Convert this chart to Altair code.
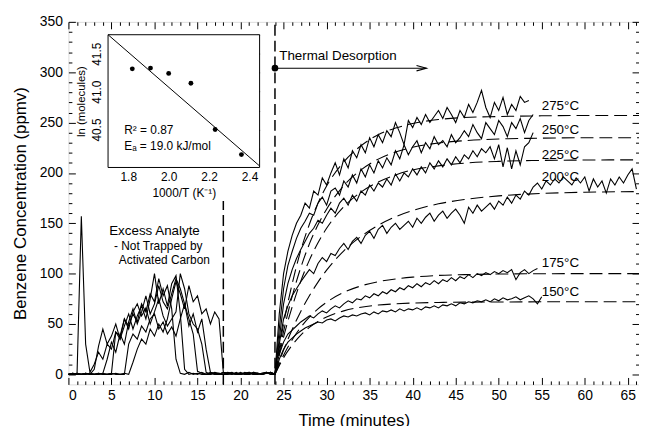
import altair as alt
import pandas as pd

FONT = "Liberation Sans"
W, H = 576, 366

temps = ["275", "250", "225", "200", "175", "150"]
temp_labels = ["275°C", "250°C", "225°C", "200°C", "175°C", "150°C"]
temp_label_v = [266, 243, 218, 196, 111, 82]
temp_label_t = 55

# 0 - 24 min, every 0.5 min (excess analyte, not trapped)
pre_275 = [0, 0, 0, 157, 30, 2, 10, 22, 15, 30, 25, 42, 38, 55, 48, 60, 52, 70, 62, 80, 72, 95, 78, 88, 65, 15,
           1, 0, 2, 0, 1, 0, 0, 2, 1, 0, 0, 1, 2, 0, 1, 0, 0, 2, 1, 0, 1, 2, 0]
pre_250 = [0, 1, 0, 0, 1, 0, 5, 28, 45, 30, 38, 50, 35, 48, 60, 45, 58, 68, 55, 75, 100, 70, 85, 68, 90, 98, 60, 5,
           0, 1, 0, 2, 0, 1, 0, 0, 2, 1, 0, 1, 0, 2, 0, 1, 0, 1, 2, 0, 0]
pre_225 = [0, 0, 1, 0, 0, 1, 0, 0, 1,
           15, 32, 22, 40, 30, 52, 65, 50, 62, 78, 60, 70, 88, 72, 65, 80, 95, 85, 70, 55, 40, 3,
           1, 0, 0, 2, 1, 0, 0, 1, 0, 2, 0, 1, 0, 0, 1, 2, 0, 0]
pre_200 = [0, 1, 0, 0, 1, 0, 0, 1, 0, 0, 1,
           42, 35, 55, 45, 62, 70, 58, 66, 50, 62, 75, 58, 48, 55, 62, 100, 85, 60, 50, 45, 30, 2,
           0, 1, 0, 2, 0, 1, 0, 0, 1, 2, 0, 1, 0, 2, 1, 0]
pre_175 = [0, 0, 1, 0, 0, 1, 0, 0, 1, 0, 0, 1, 0, 0,
           30, 40, 35, 48, 42, 55, 60, 45, 52, 40, 47, 38, 55, 70, 48, 60, 42, 55, 25, 2,
           0, 1, 0, 2, 1, 0, 0, 1, 2, 0, 1, 0, 1, 2, 0]
pre_150 = [0, 1, 0, 0, 1, 0, 0, 1, 0, 0, 1, 0, 0, 1, 0,
           12, 25, 35, 30, 45, 38, 50, 42, 55, 75, 92, 80, 65, 88, 72, 78, 60, 65, 50, 62, 55, 2,
           1, 0, 2, 0, 1, 0, 2, 1, 0, 1, 2, 0]

# from 24.5 min on, every 0.5 min (thermal desorption)
des_275 = [60, 100, 122, 138, 150, 158, 170, 165, 182, 178,
           195, 188, 200, 210, 198, 214, 205, 222, 215, 228,
           220, 235, 226, 238, 230, 242, 236, 250, 240, 228,
           252, 245, 255, 248, 258, 250, 256, 262, 254, 265,
           258, 250, 262, 255, 268, 260, 270, 282, 265, 255,
           270, 262, 275, 258, 268, 262, 276, 270, 272]
des_250 = [45, 85, 108, 122, 135, 145, 152, 160, 158, 170,
           176, 168, 182, 185, 178, 192, 186, 198, 190, 204,
           196, 208, 200, 212, 205, 215, 208, 222, 214, 228,
           218, 226, 232, 220, 230, 224, 236, 228, 232, 226,
           238, 230, 235, 242, 236, 248, 240, 234, 250, 244,
           238, 252, 246, 236, 250, 244, 254, 240, 252, 258]
des_225 = [35, 70, 90, 104, 115, 124, 132, 140, 145, 153,
           150, 158, 165, 160, 170, 175, 168, 178, 172, 182,
           178, 188, 182, 190, 186, 194, 188, 199, 192, 200,
           196, 204, 198, 206, 200, 210, 204, 212, 206, 214,
           208, 216, 210, 218, 214, 222, 216, 224, 220, 226,
           214, 228, 206, 225, 204, 222, 208, 226, 230, 240]
des_200 = [30, 55, 68, 78, 85, 92, 98, 104, 100, 110,
           116, 112, 120, 118, 125, 130, 124, 132, 136, 130,
           138, 142, 135, 144, 148, 140, 146, 150, 144, 148,
           152, 146, 155, 150, 156, 160, 152, 158, 162, 155,
           160, 164, 158, 150, 166, 160, 168, 162, 166, 170,
           164, 172, 168, 176, 170, 178, 174, 182, 178, 186,
           190, 184, 192, 188, 194, 190, 196, 192, 188, 195,
           190, 196, 182, 194, 186, 192, 180, 194, 188, 196,
           190, 198, 204, 184]
des_175 = [20, 32, 40, 44, 48, 52, 55, 58, 56, 60,
           63, 61, 65, 68, 66, 70, 73, 71, 75, 74,
           78, 76, 80, 78, 82, 80, 84, 82, 86, 84,
           88, 86, 90, 87, 91, 89, 93, 90, 94, 92,
           96, 93, 97, 95, 99, 96, 100, 98, 101, 99,
           102, 100, 103, 101, 104, 94, 101, 104, 100, 103, 105]
des_150 = [15, 25, 32, 36, 40, 43, 46, 48, 50, 52,
           51, 54, 55, 53, 56, 58, 57, 59, 58, 60,
           61, 59, 62, 60, 63, 62, 64, 62, 65, 63,
           65, 64, 66, 64, 67, 66, 68, 66, 69, 68,
           70, 68, 71, 70, 72, 71, 73, 72, 74, 72,
           75, 73, 76, 74, 75, 77, 74, 76, 78, 75, 70, 77]

# first-order fits (dashed)
fit_t = [24, 25, 26, 27, 28, 29, 30, 32, 34, 36, 38, 40, 43, 46, 50, 55, 60, 66.3]
fit_275 = [0, 50, 90, 123, 149, 170, 187, 211, 227, 238, 244.5, 249, 253, 255, 256, 256.7, 257, 257]
fit_250 = [0, 42.6, 77.5, 106, 129.5, 148.5, 164, 187.5, 203, 213.7, 220.7, 225.4, 229.7, 232, 233.7, 234.5, 235, 235]
fit_225 = [0, 37, 67, 92.5, 113.4, 130.6, 145, 166.4, 181, 191, 198, 203, 207, 209.7, 211.5, 212.4, 212.8, 213]
fit_200 = [0, 24, 44.5, 62.5, 78, 91.6, 103.4, 122.6, 137, 148, 156.4, 162.6, 169.3, 173.6, 177.2, 179.6, 180.8, 181.5]
fit_175 = [0, 19, 34.3, 46.7, 56.8, 65, 71.6, 81.4, 87.8, 92, 94.7, 96.5, 98.2, 99, 99.6, 99.9, 100, 100]
fit_150 = [0, 16.5, 29, 39, 46.6, 52.4, 56.9, 63, 66.7, 68.8, 70, 70.8, 71.4, 71.7, 71.8, 72, 72, 72]

# dashed vertical markers
vline_t = [18, 24]
vline_lo = [-10, -10]
vline_hi = [172, 350]

# thermal desorption arrow
td_t = [24, 41.6]
td_v = [304, 304]

# inset: Arrhenius plot
inv_T = [1.82, 1.91, 2.00, 2.11, 2.23, 2.36]
ln_mol = [41.30, 41.31, 41.24, 41.11, 40.50, 40.17]
reg_x = [1.70, 2.45]
reg_y = [41.75, 40.02]
inset_x_dom = [1.70, 2.45]
inset_y_dom = [40.0, 41.75]

# ---------------------------------------------------------------
pre = dict(zip(temps, [pre_275, pre_250, pre_225, pre_200, pre_175, pre_150]))
des = dict(zip(temps, [des_275, des_250, des_225, des_200, des_175, des_150]))
fits = dict(zip(temps, [fit_275, fit_250, fit_225, fit_200, fit_175, fit_150]))

rows = []
for k in temps:
    vals = pre[k] + des[k]
    for i, v in enumerate(vals):
        rows.append({"t": 0.5 * i, "v": v, "s": k})
df_tr = pd.DataFrame(rows)
df_fit = pd.DataFrame([{"t": t, "v": v, "s": k} for k in temps for t, v in zip(fit_t, fits[k])])
df_vr = pd.DataFrame({"t": vline_t, "y1": vline_lo, "y2": vline_hi})
df_td = pd.DataFrame({"t": td_t, "v": td_v})
df_lab = pd.DataFrame({"t": [temp_label_t] * 6, "v": temp_label_v, "txt": temp_labels})

xs = alt.Scale(domain=[0, 66.3], nice=False, zero=False)
ys = alt.Scale(domain=[-10, 350], nice=False, zero=False)


def tick_axis(orient, offset, values, test, big, small):
    return alt.Axis(orient=orient, offset=offset, values=values, labels=False, domain=False,
                    grid=False, title=None, tickColor="black", tickWidth=1,
                    tickSize={"condition": {"test": test, "value": big}, "value": small})


ax_x_main = alt.Axis(orient="bottom", values=list(range(0, 70, 5)), ticks=False, domain=False, grid=False,
                     labelFont=FONT, labelFontSize=14, labelColor="black", labelPadding=4,
                     title="Time (minutes)", titleFont=FONT, titleFontSize=17, titleFontWeight="normal",
                     titleColor="black", titlePadding=10)
ax_y_main = alt.Axis(orient="left", values=list(range(0, 351, 50)), ticks=False, domain=False, grid=False,
                     labelFont=FONT, labelFontSize=14, labelColor="black", labelPadding=6,
                     title="Benzene Concentration (ppmv)", titleFont=FONT, titleFontSize=17,
                     titleFontWeight="normal", titleColor="black", titlePadding=10)
xmin = list(range(0, 67))
ymin = list(range(0, 351, 10))
tx_bot = tick_axis("top", -H, xmin, "datum.value % 5 === 0", 7, 3.5)
tx_top = tick_axis("bottom", -H, xmin, "datum.value % 5 === 0", 7, 3.5)
ty_left = tick_axis("right", -W, ymin, "datum.value % 50 === 0", 7, 3.5)
ty_right = tick_axis("left", -W, ymin, "datum.value % 50 === 0", 7, 3.5)

traces = alt.Chart(df_tr).mark_line(color="black", strokeWidth=1.1).encode(
    x=alt.X("t:Q", scale=xs, axis=ax_x_main),
    y=alt.Y("v:Q", scale=ys, axis=ax_y_main),
    detail="s:N")
fitlines = alt.Chart(df_fit).mark_line(color="black", strokeWidth=1.1, strokeDash=[13, 6],
                                       interpolate="monotone").encode(
    x=alt.X("t:Q", scale=xs, axis=tx_bot),
    y=alt.Y("v:Q", scale=ys, axis=ty_left),
    detail="s:N")
vrules = alt.Chart(df_vr).mark_rule(color="black", strokeWidth=1.5, strokeDash=[11, 5]).encode(
    x=alt.X("t:Q", scale=xs, axis=tx_top),
    y=alt.Y("y1:Q", scale=ys, axis=ty_right),
    y2="y2:Q")

noax_x = alt.X("t:Q", scale=xs, axis=None)
noax_y = alt.Y("v:Q", scale=ys, axis=None)

td_line = alt.Chart(df_td).mark_line(color="black", strokeWidth=1.1).encode(x=noax_x, y=noax_y)
td_dot = alt.Chart(df_td.head(1)).mark_circle(size=45, color="black", opacity=1).encode(x=noax_x, y=noax_y)
td_head = alt.Chart(df_td.tail(1)).mark_point(shape="M-1,-0.27L0,0L-1,0.27", size=400, filled=False,
                                              color="black", strokeWidth=1.1, opacity=1).encode(x=noax_x, y=noax_y)
td_text = alt.Chart(pd.DataFrame({"t": [24.5], "v": [316], "txt": ["Thermal Desorption"]})).mark_text(
    align="left", baseline="middle", font=FONT, fontSize=13.5, color="black").encode(x=noax_x, y=noax_y, text="txt:N")

ex_df = pd.DataFrame({"t": [10.0, 5.3, 5.85], "v": [142, 127, 113],
                      "txt": ["Excess Analyte", "- Not Trapped by", "Activated Carbon"],
                      "fs": [13.5, 11.5, 11.5], "al": ["center", "left", "left"]})
ex_t1 = alt.Chart(ex_df.head(1)).mark_text(align="center", baseline="middle", font=FONT, fontSize=13.5,
                                           color="black").encode(x=noax_x, y=noax_y, text="txt:N")
ex_t2 = alt.Chart(ex_df.tail(2)).mark_text(align="left", baseline="middle", font=FONT, fontSize=12,
                                           color="black").encode(x=noax_x, y=noax_y, text="txt:N")
temp_txt = alt.Chart(df_lab).mark_text(align="left", baseline="middle", font=FONT, fontSize=13.5,
                                       color="black").encode(x=noax_x, y=noax_y, text="txt:N")

main = alt.layer(traces, fitlines, vrules, td_line, td_dot, td_head, td_text, ex_t1, ex_t2,
                 temp_txt).resolve_axis(x="independent", y="independent")

# ---------------- inset ----------------
ixs = alt.Scale(domain=inset_x_dom, range=[40, 193], nice=False, zero=False)
iys = alt.Scale(domain=inset_y_dom, range=[147, 13], nice=False, zero=False)

ix_lab = alt.Axis(orient="bottom", offset=147 - H, values=[1.8, 2.0, 2.2, 2.4], format=".1f", ticks=False,
                  domain=False, grid=False, labelFont=FONT, labelFontSize=12, labelColor="black",
                  labelPadding=4, title="1000/T (K⁻¹)", titleFont=FONT, titleFontSize=12,
                  titleFontWeight="normal", titleColor="black", titlePadding=5)
iy_lab = alt.Axis(orient="left", offset=-40, values=[40.5, 41.0, 41.5], format=".1f", ticks=False,
                  domain=False, grid=False, labelFont=FONT, labelFontSize=12, labelColor="black",
                  labelAngle=270, labelPadding=5, title="ln (molecules)", titleFont=FONT,
                  titleFontSize=11.5, titleFontWeight="normal", titleColor="black", titlePadding=4)
ixt = [1.8, 1.9, 2.0, 2.1, 2.2, 2.3, 2.4]
iyt = [40.25, 40.5, 40.75, 41.0, 41.25, 41.5, 41.75]
ix_test = "round(datum.value * 10) % 2 === 0"
iy_test = "round(datum.value * 4) % 2 === 0"
itx_bot = tick_axis("top", -147, ixt, ix_test, 5, 3)
itx_top = tick_axis("bottom", 13 - H, ixt, ix_test, 5, 3)
ity_left = tick_axis("right", 40 - W, iyt, iy_test, 5, 3)
ity_right = tick_axis("left", -193, iyt, iy_test, 5, 3)

df_frame = pd.DataFrame({"x1": [inset_x_dom[0]], "x2": [inset_x_dom[1]],
                         "y1": [inset_y_dom[0]], "y2": [inset_y_dom[1]]})
frame = alt.Chart(df_frame).mark_rect(fill="white", stroke="black", strokeWidth=1).encode(
    x=alt.X("x1:Q", scale=ixs, axis=ix_lab), x2="x2:Q",
    y=alt.Y("y1:Q", scale=iys, axis=iy_lab), y2="y2:Q")
reg = alt.Chart(pd.DataFrame({"x": reg_x, "y": reg_y})).mark_line(color="black", strokeWidth=1).encode(
    x=alt.X("x:Q", scale=ixs, axis=itx_bot), y=alt.Y("y:Q", scale=iys, axis=ity_left))
pts = alt.Chart(pd.DataFrame({"x": inv_T, "y": ln_mol})).mark_circle(size=24, color="black", opacity=1).encode(
    x=alt.X("x:Q", scale=ixs, axis=itx_top), y=alt.Y("y:Q", scale=iys, axis=ity_right))
itxt = alt.Chart(pd.DataFrame({"x": [1.78, 1.78], "y": [40.5, 40.28],
                               "txt": ["R² = 0.87", "Eₐ = 19.0 kJ/mol"]})).mark_text(
    align="left", baseline="middle", font=FONT, fontSize=12, color="black").encode(
    x=alt.X("x:Q", scale=ixs, axis=None), y=alt.Y("y:Q", scale=iys, axis=None), text="txt:N")

inset = alt.layer(frame, reg, pts, itxt).resolve_axis(x="independent", y="independent")

chart = alt.layer(main, inset).resolve_scale(x="independent", y="independent").resolve_axis(
    x="independent", y="independent").properties(
    width=W, height=H,
    autosize=alt.AutoSizeParams(type="none"),
    padding={"left": 61, "top": 12, "right": 0, "bottom": 40},
).configure_view(stroke="black", strokeWidth=1).configure(background="white")

chart.save("out.html", embed_options={"renderer": "svg", "actions": False})
